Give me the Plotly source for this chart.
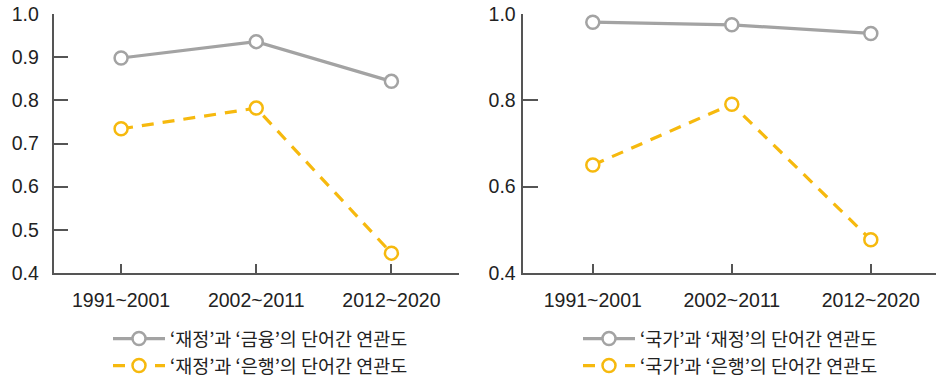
import plotly.graph_objects as go
from plotly.subplots import make_subplots

periods = ["1991~2001", "2002~2011", "2012~2020"]

left_finance = [0.898, 0.936, 0.844]
left_bank = [0.734, 0.782, 0.446]
right_finance = [0.981, 0.975, 0.955]
right_bank = [0.650, 0.791, 0.477]

left_names = ["‘재정’과 ‘금융’의 단어간 연관도", "‘재정’과 ‘은행’의 단어간 연관도"]
right_names = ["‘국가’과 ‘재정’의 단어간 연관도", "‘국가’과 ‘은행’의 단어간 연관도"]

left_ticks = [0.4, 0.5, 0.6, 0.7, 0.8, 0.9, 1.0]
right_ticks = [0.4, 0.6, 0.8, 1.0]

GRAY = "#a3a3a3"
YELLOW = "#f6b90e"
AXIS = "#555555"
FONT = "Liberation Sans, Arial, Noto Sans CJK KR, sans-serif"
KFONT = "Noto Sans CJK KR, sans-serif"
DASH = "12px,9px"

fig = make_subplots(rows=1, cols=2)

def add(series, name, color, dash, col, legend):
    fig.add_trace(go.Scatter(
        x=periods, y=series, name=name, mode="lines+markers",
        line=dict(color=color, width=3.2, dash=dash),
        marker=dict(symbol="circle", size=13, color="white",
                    line=dict(color=color, width=2.5)),
        legend=legend, cliponaxis=False,
    ), row=1, col=col)

add(left_finance, left_names[0], GRAY, "solid", 1, "legend")
add(left_bank, left_names[1], YELLOW, DASH, 1, "legend2")
add(right_finance, right_names[0], GRAY, "solid", 2, "legend3")
add(right_bank, right_names[1], YELLOW, DASH, 2, "legend4")

xcommon = dict(type="category", showline=True, linecolor=AXIS, linewidth=1.5,
               ticks="inside", ticklen=9, tickwidth=1.5, tickcolor=AXIS,
               showgrid=False, zeroline=False, ticklabelstandoff=9, tickangle=0,
               tickfont=dict(family=FONT, size=19.5, color="#222222"))
ycommon = dict(showline=True, linecolor=AXIS, linewidth=1.5,
               ticks="inside", ticklen=15, tickwidth=1.5, tickcolor=AXIS,
               showgrid=False, zeroline=False, range=[0.4, 1.0],
               tickfont=dict(family=FONT, size=19.5, color="#222222"))

fig.update_xaxes(**xcommon, domain=[53.5/936, 459/936], range=[-0.5, 2.5], row=1, col=1)
fig.update_xaxes(**xcommon, domain=[523.3/936, 1.0], range=[-0.5, 2.469], row=1, col=2)
fig.update_yaxes(**ycommon, tickvals=left_ticks, ticktext=[f"{v:.1f}" for v in left_ticks],
                 ticklabelstandoff=9, row=1, col=1)
fig.update_yaxes(**ycommon, tickvals=right_ticks, ticktext=[f"{v:.1f}" for v in right_ticks],
                 ticklabelstandoff=2, row=1, col=2)

legend_common = dict(font=dict(family=KFONT, size=18.5, color="#222222"),
                     bgcolor="rgba(0,0,0,0)",
                     xanchor="left", yanchor="middle", yref="container", xref="container",
                     itemwidth=52)
fig.update_layout(
    width=936, height=377,
    margin=dict(l=0, r=0, t=14, b=104, autoexpand=False),
    paper_bgcolor="white", plot_bgcolor="white",
    showlegend=True,
    legend=dict(**legend_common, x=108/936, y=1 - 339/377),
    legend2=dict(**legend_common, x=108/936, y=1 - 366/377),
    legend3=dict(**legend_common, x=578/936, y=1 - 339/377),
    legend4=dict(**legend_common, x=578/936, y=1 - 366/377),
)

fig.write_html("out.html")
